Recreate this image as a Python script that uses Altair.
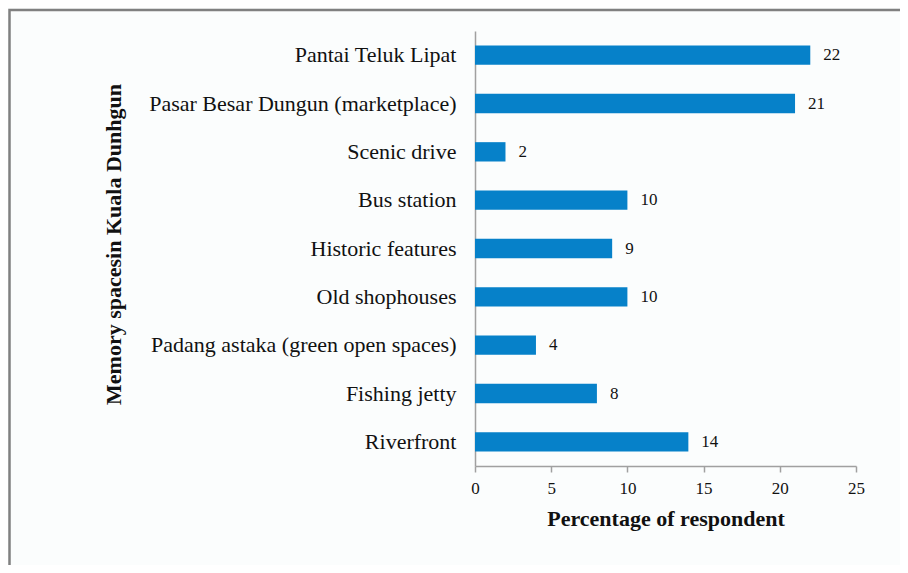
import altair as alt
import pandas as pd

places = [
    "Pantai Teluk Lipat",
    "Pasar Besar Dungun (marketplace)",
    "Scenic drive\u00a0",
    "Bus station\u00a0",
    "Historic features\u00a0",
    "Old shophouses",
    "Padang astaka (green open spaces)",
    "Fishing jetty",
    "Riverfront\u00a0",
]
values = [22, 21, 2, 10, 9, 10, 4, 8, 14]
x_ticks = [0, 5, 10, 15, 20, 25]

df = pd.DataFrame({"place": places, "value": values})

FONT = "Liberation Serif"
BLUE = "#0681C9"

base = alt.Chart(df).encode(
    y=alt.Y(
        "place:N",
        sort=places,
        scale=alt.Scale(paddingInner=0.6, paddingOuter=0.3),
        axis=alt.Axis(
            title="Memory spacesin Kuala Dunhgun",
            titleFont=FONT,
            titleFontSize=22,
            titleFontWeight="bold",
            titleColor="#111111",
            titleX=-350,
            titleY=213,
            titleAngle=270,
            titleAlign="center",
            titleBaseline="bottom",
            labelFont=FONT,
            labelFontSize=22,
            labelColor="#111111",
            labelPadding=19,
            ticks=False,
            domainColor="#a0a0a0",
            domainWidth=1.5,
            labelLimit=0,
        ),
    ),
)

bars = base.mark_bar(color=BLUE).encode(
    x=alt.X(
        "value:Q",
        scale=alt.Scale(domain=[0, 25], nice=False),
        axis=alt.Axis(
            values=x_ticks,
            title="Percentage of respondent",
            titleFont=FONT,
            titleFontSize=22,
            titleFontWeight="bold",
            titleColor="#111111",
            titlePadding=12,
            labelFont=FONT,
            labelFontSize=17,
            labelColor="#111111",
            labelPadding=8,
            labelFlush=False,
            tickSize=6,
            tickColor="#a0a0a0",
            tickWidth=1.5,
            domainColor="#a0a0a0",
            domainWidth=1.5,
            grid=False,
        ),
    )
)

labels = base.mark_text(
    align="left", baseline="middle", dx=13, font=FONT, fontSize=17, color="#111111"
).encode(x="value:Q", text="value:Q")

frame = alt.Chart(pd.DataFrame({"k": [0]})).mark_rect(
    fill=None, stroke="#808080", strokeWidth=2.5, clip=False
).encode(
    x=alt.value(-465.5),
    x2=alt.value(700),
    y=alt.value(-21),
    y2=alt.value(700),
)

chart = (
    alt.layer(frame, bars, labels)
    .properties(
        width=381,
        height=435,
        autosize=alt.AutoSizeParams(type="none"),
        padding={"left": 467, "top": 23, "right": 44, "bottom": 99},
        background="#fbfdfd",
    )
    .configure_view(stroke=None)
)

chart.save("out.html", embed_options={"renderer": "svg", "actions": False})
